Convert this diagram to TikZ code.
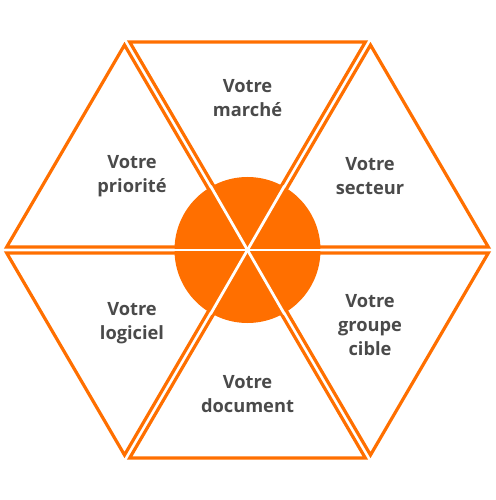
\documentclass[tikz,border=0pt]{standalone}
\usepackage{fontspec}
\setsansfont{Open Sans}
\usetikzlibrary{positioning}
\definecolor{orange}{HTML}{FF6F00}
\definecolor{graytext}{HTML}{4A4A4A}
\tikzset{
  body/.style={font=\sffamily\bfseries\fontsize{13}{17}\selectfont,text=graytext,align=center,inner sep=0pt},
  wedge/.style={draw=orange,line width=0.8mm},
  hub/.style={fill=orange},
  gapline/.style={draw=white,line width=0.7mm}
}
\begin{document}
\begin{tikzpicture}[x=0.25mm,y=0.25mm]
\path[use as bounding box] (-247.5,-250) rectangle (247.5,250);
% six triangles of the hexagon
\draw[wedge] (5.2,3)--(240.8,3)--(123,205)--cycle;
\draw[wedge] (0,6)--(117.8,208)--(-117.8,208)--cycle;
\draw[wedge] (-5.2,3)--(-123,205)--(-240.8,3)--cycle;
\draw[wedge] (-5.2,-3)--(-240.8,-3)--(-123,-205)--cycle;
\draw[wedge] (0,-6)--(-117.8,-208)--(117.8,-208)--cycle;
\draw[wedge] (5.2,-3)--(123,-205)--(240.8,-3)--cycle;
% centre disc with the gaps through it
\fill[hub] (0,0) circle (73);
\begin{scope}
\clip (0,0) circle (74);
\draw[gapline] (-80,0)--(80,0);
\draw[gapline] (-40,-69.3)--(40,69.3);
\draw[gapline] (-40,69.3)--(40,-69.3);
\end{scope}
\node[body] (marche) at (0,152) {Votre\\marché};
\node[body] (secteur) at (122.5,74) {Votre\\secteur};
\node[body] (priorite) at (-115.5,74) {Votre\\priorité};
\node[body] (logiciel) at (-115.5,-73) {Votre\\logiciel};
\node[body] (cible) at (122.5,-75) {Votre\\groupe\\cible};
\node[body] (document) at (0,-144) {Votre\\document};
\end{tikzpicture}
\end{document}
